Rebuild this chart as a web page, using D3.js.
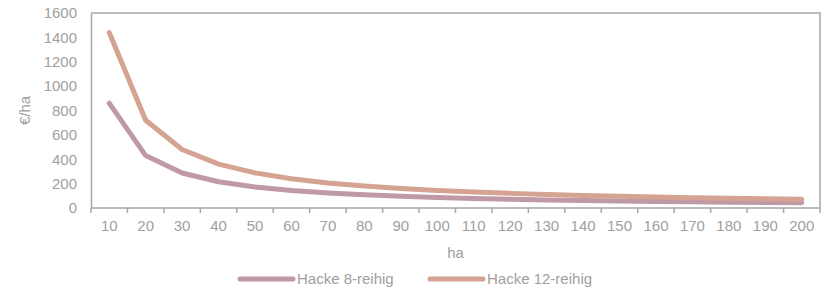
<!DOCTYPE html>
<style>
  body { margin: 0; background: #fff; }
  text { font-family: "Liberation Sans", Arial, sans-serif; fill: #a0a0a0; }
  .axis text { font-size: 15px; }
  .axis path, .axis line { fill: none; stroke: #a6a6a6; stroke-width: 1.5px; }
  .line { fill: none; stroke-width: 5px; stroke-linecap: round; stroke-linejoin: round; }
</style>
<body>
  <div id="svg_frame"></div>
</body>
<script src="https://cdnjs.cloudflare.com/ajax/libs/d3/7.8.5/d3.js"></script>
<script>
  // ha categories
  var flaeche = [10, 20, 30, 40, 50, 60, 70, 80, 90, 100, 110, 120, 130, 140, 150, 160, 170, 180, 190, 200];
  // €/ha
  var hacke8 = [860, 430, 287, 215, 172, 143, 123, 108, 96, 86, 78, 72, 66, 61, 57, 54, 51, 48, 45, 43];
  var hacke12 = [1440, 720, 480, 360, 288, 240, 206, 180, 160, 144, 131, 120, 111, 103, 96, 90, 85, 80, 76, 72];
  var yTicks = [0, 200, 400, 600, 800, 1000, 1200, 1400, 1600];

  var series = [
    { name: "Hacke 8-reihig", values: hacke8, color: "#bf9aa6" },
    { name: "Hacke 12-reihig", values: hacke12, color: "#d4a392" }
  ];

  var width = 834, height = 290;
  var margin = { top: 13, right: 14, bottom: 82, left: 91 };
  var w = width - margin.left - margin.right,
    h = height - margin.top - margin.bottom;

  var svg = d3.select("#svg_frame").append("svg")
    .attr("width", width)
    .attr("height", height);

  var g = svg.append("g")
    .attr("transform", "translate(" + margin.left + "," + margin.top + ")");

  var x = d3.scaleBand().domain(flaeche).range([0, w]);
  var y = d3.scaleLinear().domain([0, 1600]).range([h, 0]);

  // frame top/right
  g.append("path")
    .attr("d", "M0,0H" + w + "V" + h)
    .attr("fill", "none")
    .attr("stroke", "#a6a6a6")
    .attr("stroke-width", 1.5);

  // y axis
  g.append("g").attr("class", "axis")
    .call(d3.axisLeft(y).tickValues(yTicks).tickFormat(d3.format("d")).tickSize(0).tickPadding(14));

  // x axis with ticks at category borders
  var xAxis = g.append("g").attr("class", "axis")
    .attr("transform", "translate(0," + h + ")")
    .call(d3.axisBottom(x).tickSize(0).tickPadding(12));
  xAxis.select(".domain").remove();
  xAxis.append("path")
    .attr("d", "M0,0H" + w)
    .attr("stroke", "#a6a6a6").attr("stroke-width", 1.5);
  xAxis.selectAll(".border")
    .data(d3.range(flaeche.length + 1))
    .enter().append("line")
    .attr("x1", function (i) { return i * x.step(); })
    .attr("x2", function (i) { return i * x.step(); })
    .attr("y1", 0).attr("y2", 5);

  var line = d3.line()
    .x(function (d, i) { return x(flaeche[i]) + x.bandwidth() / 2; })
    .y(function (d) { return y(d); });

  g.selectAll(".line")
    .data(series)
    .enter().append("path")
    .attr("class", "line")
    .attr("stroke", function (d) { return d.color; })
    .attr("d", function (d) { return line(d.values); });

  // axis titles
  svg.append("text")
    .attr("x", margin.left + w / 2).attr("y", 258)
    .attr("text-anchor", "middle").style("font-size", "15px")
    .text("ha");

  svg.append("text")
    .attr("transform", "translate(30," + (margin.top + h / 2) + ") rotate(-90)")
    .attr("text-anchor", "middle").style("font-size", "15px")
    .text("€/ha");

  // legend
  var legendX = [240, 430];
  var leg = svg.selectAll(".legend")
    .data(series)
    .enter().append("g")
    .attr("transform", function (d, i) { return "translate(" + legendX[i] + ",279)"; });
  leg.append("line")
    .attr("x1", 0).attr("x2", 53)
    .attr("stroke", function (d) { return d.color; })
    .attr("stroke-width", 5).attr("stroke-linecap", "round");
  leg.append("text")
    .attr("x", 57).attr("y", 5)
    .style("font-size", "15px")
    .text(function (d) { return d.name; });

  // source (cut off at bottom, as in the original)
  svg.append("text")
    .attr("x", 746).attr("y", 300)
    .style("font-size", "15px")
    .text("KTBL, 2024");
</script>
